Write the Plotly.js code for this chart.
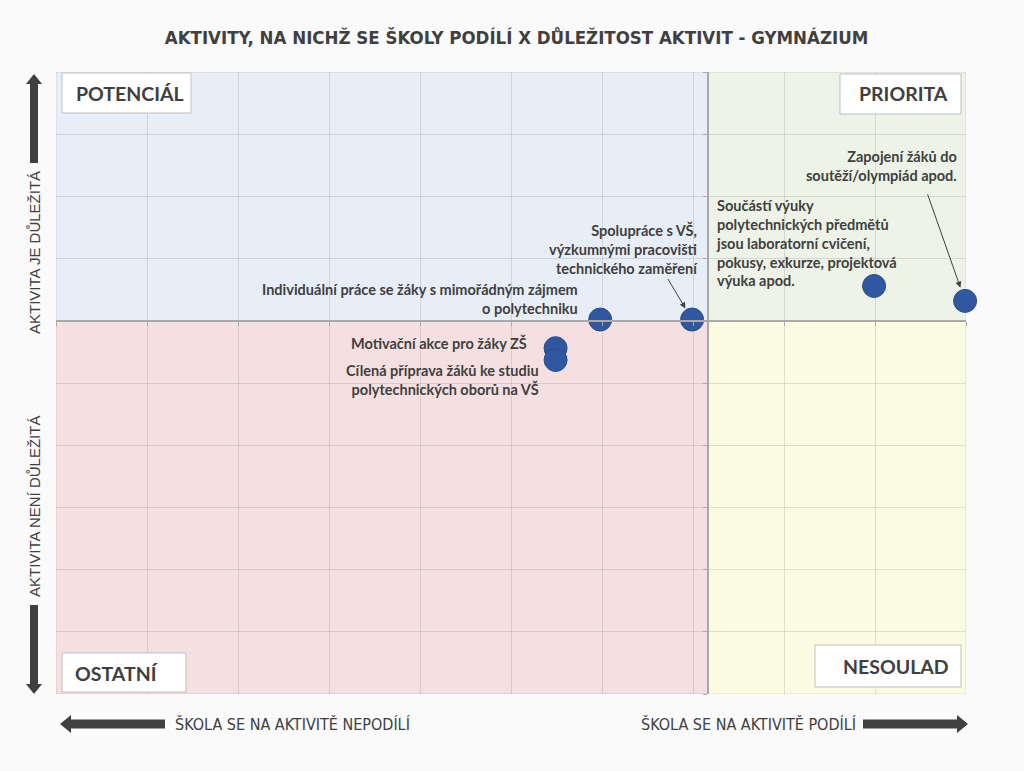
<!DOCTYPE html>
<html>
<head>
<meta charset="utf-8">
<script src="https://cdn.plot.ly/plotly-3.0.1.min.js"></script>
<style>
  html, body { margin: 0; padding: 0; background: #fafafa; }
  #chart { width: 1024px; height: 771px; }
</style>
</head>
<body>
<div id="chart"></div>
<script>
// ---------- data ----------
const activities = [
  "Individuální práce se žáky s mimořádným zájmem<br>o polytechniku",
  "Spolupráce s VŠ,<br>výzkumnými pracovišti<br>technického zaměření",
  "Motivační akce pro žáky ZŠ",
  "Cílená příprava žáků ke studiu<br>polytechnických oborů na VŠ",
  "Součástí výuky<br>polytechnických předmětů<br>jsou laboratorní cvičení,<br>pokusy, exkurze, projektová<br>výuka apod.",
  "Zapojení žáků do<br>soutěží/olympiád apod."
];
const participation = [59.8, 69.9, 54.9, 54.9, 89.9, 99.9];   // x
const importance    = [6.02, 6.02, 5.56, 5.37, 6.56, 6.32];    // y
const splitX = 71.65;
const splitY = 6.0;
const quadrantNames = ["POTENCIÁL", "PRIORITA", "OSTATNÍ", "NESOULAD"];
const axisTexts = ["AKTIVITA JE DŮLEŽITÁ", "AKTIVITA NENÍ DŮLEŽITÁ",
                   "ŠKOLA SE NA AKTIVITĚ NEPODÍLÍ", "ŠKOLA SE NA AKTIVITĚ PODÍLÍ"];
const chartTitle = "AKTIVITY, NA NICHŽ SE ŠKOLY PODÍLÍ X DŮLEŽITOST AKTIVIT - GYMNÁZIUM";

// ---------- layout helpers ----------
const W = 1024, H = 771;
const M = {l: 56, r: 58, t: 72, b: 77};
const PW = W - M.l - M.r, PH = H - M.t - M.b;
const px = X => (X - M.l) / PW;
const py = Y => (H - M.b - Y) / PH;
const TXT = '#404040';
const labelFont = {family: 'Lato, "Open Sans", sans-serif', size: 14.5, color: TXT, weight: 'bold'};

// label placement relative to each point (pixels)
const labelPlacement = [
  {anchor: 'right', align: 'right', dx: -20, dy: 20.5},
  {anchor: 'right', align: 'right', dx: 8, dy: 71, arrow: {ax: -25, ay: -42, standoff: 13}},
  {anchor: 'right', align: 'right', dx: -27, dy: 5},
  {anchor: 'right', align: 'right', dx: -15, dy: -20},
  {anchor: 'left',  align: 'left',  dx: -160, dy: 42.5},
  {anchor: 'right', align: 'right', dx: -6, dy: 134.5, arrow: {ax: -38, ay: -108, standoff: 14}}
];

const shapes = [];
const annotations = [];

// quadrant backgrounds
const quads = [
  {x0: 0, x1: splitX, y0: splitY, y1: 10, c: '#e8eef7'},
  {x0: splitX, x1: 100, y0: splitY, y1: 10, c: '#eef3e8'},
  {x0: 0, x1: splitX, y0: 0, y1: splitY, c: '#f5e0e1'},
  {x0: splitX, x1: 100, y0: 0, y1: splitY, c: '#fbfbe2'}
];
quads.forEach(q => shapes.push({type: 'rect', xref: 'x', yref: 'y', x0: q.x0, x1: q.x1, y0: q.y0, y1: q.y1,
  fillcolor: q.c, line: {width: 1, color: 'rgba(0,0,0,0.12)'}, layer: 'below'}));

// quadrant label boxes (pixel boxes)
const boxes = [
  {b: [62, 73, 191, 113], tx: 74, ty: 93, xa: 'left'},
  {b: [840, 74, 961, 114], tx: 950, ty: 94, xa: 'right'},
  {b: [62, 653, 186, 692], tx: 73, ty: 673, xa: 'left'},
  {b: [815, 645, 961, 687], tx: 951, ty: 666, xa: 'right'}
];
boxes.forEach((bx, i) => {
  shapes.push({type: 'rect', xref: 'paper', yref: 'paper',
    x0: px(bx.b[0]), x1: px(bx.b[2]), y0: py(bx.b[3]), y1: py(bx.b[1]),
    fillcolor: '#ffffff', line: {width: 1, color: '#bfbfbf'}});
  annotations.push({xref: 'paper', yref: 'paper', x: px(bx.tx), y: py(bx.ty),
    xanchor: bx.xa, yanchor: 'middle', showarrow: false, text: quadrantNames[i],
    font: {family: 'Lato, "Open Sans", sans-serif', size: 19.5, color: TXT, weight: 'bold'}});
});

// arrows (pixel polygons)
function poly(pts) {
  return 'M ' + pts.map(p => px(p[0]) + ',' + py(p[1])).join(' L ') + ' Z';
}
const arrowPolys = [
  [[34, 74], [42, 84], [38, 84], [38, 163], [30, 163], [30, 84], [26, 84]],
  [[34, 694], [42, 684], [38, 684], [38, 605], [30, 605], [30, 684], [26, 684]],
  [[60, 724], [71, 715], [71, 719.5], [165, 719.5], [165, 728.5], [71, 728.5], [71, 733]],
  [[968, 724], [957, 715], [957, 719.5], [863, 719.5], [863, 728.5], [957, 728.5], [957, 733]]
];
arrowPolys.forEach(p => shapes.push({type: 'path', xref: 'paper', yref: 'paper', path: poly(p),
  fillcolor: '#404040', line: {width: 0}}));

// axis side texts
const sideFont = {family: '"Liberation Sans", Arial, sans-serif', size: 15, color: TXT};
annotations.push({xref: 'paper', yref: 'paper', x: px(34), y: py(253), xanchor: 'center', yanchor: 'middle',
  textangle: -90, showarrow: false, text: axisTexts[0], font: sideFont});
annotations.push({xref: 'paper', yref: 'paper', x: px(34), y: py(507), xanchor: 'center', yanchor: 'middle',
  textangle: -90, showarrow: false, text: axisTexts[1], font: sideFont});
const narrow = '"Liberation Sans Narrow", "DejaVu Sans Condensed", "Roboto Condensed", sans-serif';
annotations.push({xref: 'paper', yref: 'paper', x: px(173), y: py(724), xanchor: 'left', yanchor: 'middle',
  showarrow: false, text: axisTexts[2], font: {family: narrow, size: 16, color: TXT}});
annotations.push({xref: 'paper', yref: 'paper', x: px(858), y: py(724), xanchor: 'right', yanchor: 'middle',
  showarrow: false, text: axisTexts[3], font: {family: narrow, size: 16, color: TXT}});

// point labels
activities.forEach((t, i) => {
  const p = labelPlacement[i];
  annotations.push({xref: 'x', yref: 'y', x: participation[i], y: importance[i], text: t,
    showarrow: false, xanchor: p.anchor, yanchor: 'middle', align: p.align,
    xshift: p.dx, yshift: p.dy, font: labelFont});
  if (p.arrow) {
    annotations.push({xref: 'x', yref: 'y', x: participation[i], y: importance[i], text: '',
      showarrow: true, ax: p.arrow.ax, ay: p.arrow.ay, standoff: p.arrow.standoff,
      arrowhead: 2, arrowsize: 1.2, arrowwidth: 1, arrowcolor: TXT});
  }
});

const trace = {
  type: 'scatter', mode: 'markers', x: participation, y: importance, text: activities,
  hoverinfo: 'text', cliponaxis: false,
  marker: {size: 23, color: '#2f58a0', line: {width: 1, color: '#2a4d8e'}}
};

const layout = {
  width: W, height: H,
  margin: M,
  paper_bgcolor: '#fafafa', plot_bgcolor: '#fafafa',
  showlegend: false,
  title: {text: chartTitle, xref: 'container', x: 516.5 / W, y: 1 - 38 / H, yanchor: 'middle',
    font: {family: narrow, size: 18.5, color: TXT, weight: 'bold'}},
  xaxis: {range: [0, 100], dtick: 10, showticklabels: false, zeroline: false, fixedrange: true,
    showgrid: true, gridcolor: 'rgba(110,110,110,0.2)', gridwidth: 1,
    anchor: 'free', position: splitY / 10, showline: true, linecolor: '#a9a9a9', linewidth: 2,
    ticks: 'outside', ticklen: 4, tickcolor: '#a9a9a9', tickwidth: 1},
  yaxis: {range: [0, 10], dtick: 1, showticklabels: false, zeroline: false, fixedrange: true,
    showgrid: true, gridcolor: 'rgba(110,110,110,0.2)', gridwidth: 1,
    anchor: 'free', position: splitX / 100, showline: true, linecolor: '#a9a9a9', linewidth: 2,
    ticks: 'outside', ticklen: 4, tickcolor: '#a9a9a9', tickwidth: 1},
  shapes: shapes,
  annotations: annotations
};

Plotly.newPlot('chart', [trace], layout, {displayModeBar: false, staticPlot: true});
</script>
</body>
</html>
